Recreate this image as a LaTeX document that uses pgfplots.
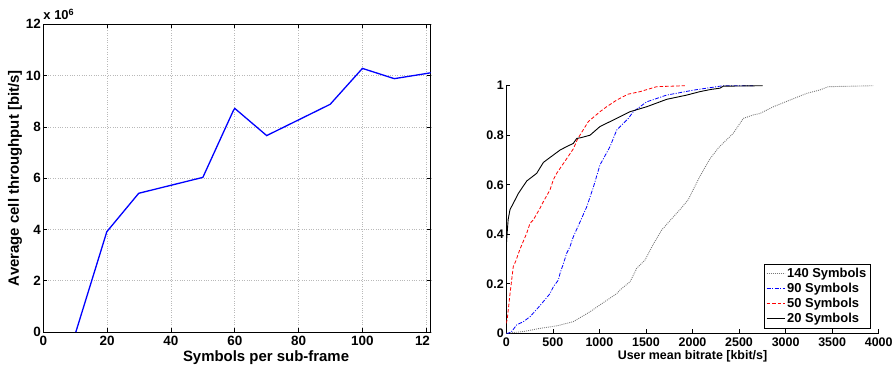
\documentclass[border=0pt]{standalone}
\usepackage{fontspec}
\setmainfont{Liberation Sans}
\usepackage{pgfplots}
\pgfplotsset{compat=1.18}
\definecolor{cgray}{RGB}{120,120,120}
\newcommand{\lf}{\bfseries\fontsize{13}{13}\selectfont}
\begin{document}
\begin{tikzpicture}[x=1bp,y=1bp]
\useasboundingbox (0,0) rectangle (893,370);
% ---------------- left axis ----------------
\begin{axis}[
  at={(43.3bp,38bp)}, anchor=south west,
  scale only axis, width=387.4bp, height=307.7bp,
  xmin=0, xmax=121.4, ymin=0, ymax=12,
  xtick={0,20,40,60,80,100,120},
  xticklabels={0,20,40,60,80,100,12\phantom{0}},
  ytick={0,2,4,6,8,10,12},
  yticklabels={0,2,4,6,8,10,12},
  grid=major,
  grid style={dotted, gray!55, line width=0.6bp},
  axis line style={line width=0.8bp},
  tick align=inside, major tick length=4bp,
  tick style={black, line width=0.6bp},
  every tick label/.append style={font=\bfseries\fontsize{13.5}{13.5}\selectfont},
  xticklabel style={yshift=-1bp},
  yticklabel style={xshift=1bp},
  xlabel={Symbols per sub-frame},
  ylabel={Average cell throughput [bit/s]},
  xlabel style={font=\bfseries\fontsize{15}{15}\selectfont, at={(rel axis cs:0.575,0)}, anchor=north, yshift=-15bp},
  ylabel style={font=\bfseries\fontsize{15}{15}\selectfont, yshift=-3bp},
  clip mode=individual,
]
\addplot[blue, line width=1.3bp] coordinates {
(10.2,0) (19.9,3.91) (29.9,5.41) (50,6.03) (59.5,8.62) (60,8.72) (70,7.66)
(89.9,8.88) (100,10.28) (110,9.88) (120,10.08) (121.4,10.11)
};
\node[anchor=south west, inner sep=0pt, font=\bfseries\fontsize{13}{13}\selectfont] at (rel axis cs:0,1) [yshift=4bp] {x 10\textsuperscript{6}};
\end{axis}
% ---------------- right axis ----------------
\begin{axis}[
  at={(506.3bp,36.7bp)}, anchor=south west,
  scale only axis, width=372.4bp, height=247.6bp,
  xmin=0, xmax=4000, ymin=0, ymax=1,
  axis x line*=bottom, axis y line*=left,
  axis line style={-, line width=0.8bp},
  xtick={0,500,1000,1500,2000,2500,3000,3500,4000},
  xticklabels={0,500,1000,1500,2000,2500,3000,3500,4000},
  ytick={0,0.2,0.4,0.6,0.8,1},
  yticklabels={0,0.2,0.4,0.6,0.8,1},
  tick align=inside, major tick length=4bp,
  tick style={black, line width=0.6bp},
  every tick label/.append style={font=\bfseries\fontsize{12.5}{12.5}\selectfont},
  xticklabel style={yshift=-1bp},
  yticklabel style={xshift=1bp},
  xlabel={User mean bitrate [kbit/s]},
  xlabel style={font=\bfseries\fontsize{12.5}{12.5}\selectfont, yshift=3bp},
  legend style={at={(0.9785,0.0186)}, anchor=south east, draw=black, line width=0.8bp,
    inner sep=2bp, row sep=0.3bp},
  legend cell align=left,
  legend image code/.code={\draw[#1, line width=1bp] (0bp,0bp) -- (18bp,0bp);},
]
\addplot[color=cgray, line width=0.9bp, dash pattern=on 0.9bp off 1.1bp] coordinates {
(0,0) (183,0.007) (362,0.02) (541,0.03) (720,0.047) (899,0.087) (1042,0.124)
(1185,0.16) (1221,0.175) (1329,0.208) (1400,0.262) (1490,0.296) (1579,0.36)
(1669,0.417) (1758,0.455) (1866,0.5) (1955,0.54) (2081,0.635) (2188,0.705)
(2280,0.75) (2438,0.808) (2546,0.868) (2653,0.882) (2725,0.888) (2868,0.915)
(3047,0.942) (3227,0.969) (3369,0.983) (3459,0.996) (3943,1)
};
\addlegendentry{\lf 140 Symbols}
\addplot[color=blue, line width=0.8bp, dash pattern=on 4bp off 1.5bp on 1bp off 1.5bp] coordinates {
(0,0) (21,0) (57,0.007) (112,0.034) (183,0.047) (255,0.067) (362,0.112)
(469,0.16) (505,0.188) (559,0.215) (577,0.242) (612,0.28) (648,0.323)
(684,0.35) (720,0.39) (792,0.45) (863,0.51) (935,0.59) (1006,0.68)
(1114,0.754) (1186,0.821) (1293,0.861) (1311,0.868) (1364,0.895) (1508,0.935)
(1722,0.962) (2009,0.982) (2331,1) (2650,1)
};
\addlegendentry{\lf 90 Symbols}
\addplot[color=red, line width=0.8bp, dash pattern=on 3.5bp off 2bp] coordinates {
(0,0.04) (11,0.06) (40,0.16) (75,0.27) (100,0.29) (147,0.34) (219,0.404)
(254,0.444) (290,0.458) (362,0.505) (397,0.531) (469,0.579) (505,0.62)
(541,0.646) (648,0.705) (720,0.745) (760,0.78) (792,0.801) (881,0.855)
(1006,0.895) (1078,0.915) (1186,0.942) (1257,0.956) (1311,0.966)
(1436,0.976) (1615,0.996) (1919,1)
};
\addlegendentry{\lf 50 Symbols}
\addplot[color=black, line width=0.9bp] coordinates {
(0,0.355) (8,0.40) (20,0.46) (40,0.50) (75,0.525) (130,0.565) (219,0.615)
(326,0.646) (398,0.69) (433,0.70) (577,0.74) (648,0.754) (720,0.767)
(756,0.787) (800,0.79) (899,0.80) (1006,0.835) (1185,0.868) (1329,0.895)
(1508,0.915) (1723,0.945) (1937,0.962) (2080,0.976) (2200,0.985)
(2295,0.99) (2330,0.998) (2754,1)
};
\addlegendentry{\lf 20 Symbols}
\end{axis}
\end{tikzpicture}
\end{document}
